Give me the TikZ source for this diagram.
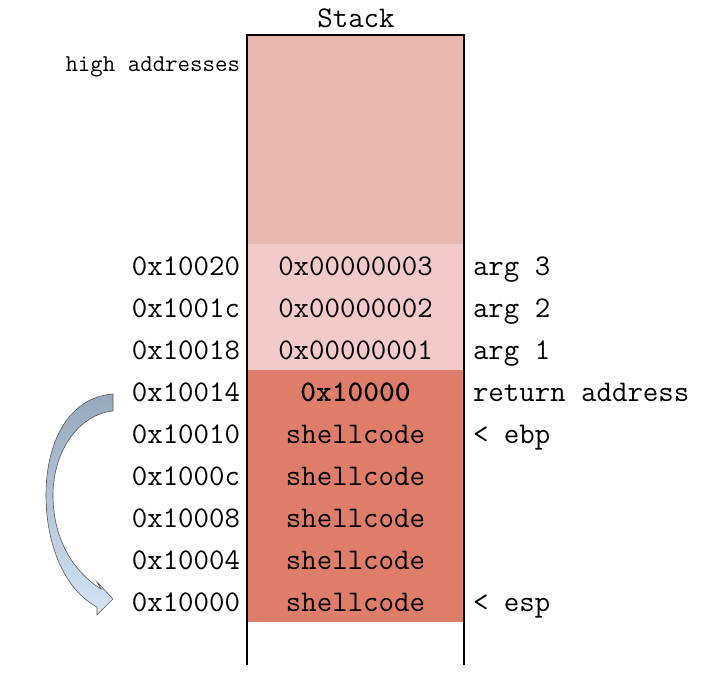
\documentclass[tikz,border=0pt]{standalone}
\usepackage{tikz}
\usetikzlibrary{positioning}
\definecolor{oldstack}{HTML}{E8B8B0}
\definecolor{argcell}{HTML}{F3CACA}
\definecolor{framecell}{HTML}{DF7D6B}
\definecolor{jumptop}{HTML}{95A8BC}
\definecolor{jumpbot}{HTML}{D3E4F6}

\begin{document}
\begin{tikzpicture}[x=1pt,y=-1pt,
  every node/.style={font=\ttfamily\fontsize{30}{33}\selectfont,inner sep=0pt,outer sep=0pt},
  cell/.style={minimum width=217pt,minimum height=42pt},
  word/.style={text height=15pt,text depth=3pt},
  addr/.style={word,anchor=east},
  note/.style={word,anchor=west}]
\useasboundingbox (0,0) rectangle (708,680);
% free part of the stack
\node[cell,fill=oldstack,minimum height=209pt] (old) at (355.5,139.5) {};
\node[word] (title) at (356,21) {Stack};
\node[addr,font=\ttfamily\fontsize{24.2}{27}\selectfont] (high) at (240,65) {high addresses};
% one row per word
\foreach \i/\a/\v/\c in {1/0x10020/0x00000003/argcell,
                         2/0x1001c/0x00000002/argcell,
                         3/0x10018/0x00000001/argcell,
                         4/0x10014/\textbf{0x10000}/framecell,
                         5/0x10010/shellcode/framecell,
                         6/0x1000c/shellcode/framecell,
                         7/0x10008/shellcode/framecell,
                         8/0x10004/shellcode/framecell,
                         9/0x10000/shellcode/framecell}{
  \node[cell,fill=\c] (cell\i) at (355.5,{223+42*\i}) {};
  \node[word] (val\i) at (355.5,{227+42*\i}) {\v};
  \node[addr] (addr\i) at (240,{227+42*\i}) {\a};
}
\node[note] (arg3) at (473,269) {arg 3};
\node[note] (arg2) at (473,311) {arg 2};
\node[note] (arg1) at (473,353) {arg 1};
\node[note] (ret) at (473,395) {return address};
\node[note] (ebp) at (473,437) {< ebp};
\node[note] (esp) at (473,605) {< esp};
% outline, open at the bottom
\coordinate (lowl) at (247,665);
\coordinate (lowr) at (464,665);
\draw[line width=1.5pt] (lowl) -- (old.north west) -- (old.north east) -- (lowr);
% jump back into the shellcode
\path[draw=black!65,line width=0.6pt,top color=jumptop,bottom color=jumpbot]
  (113,394) .. controls (70,397) and (46,440) .. (46,495)
  .. controls (46,550) and (68,592) .. (97,607)
  -- (97,615) -- (113,599) -- (97,582) -- (101,589)
  .. controls (74,572) and (53,540) .. (53,495)
  .. controls (53,450) and (80,414) .. (113,411) -- cycle;
\end{tikzpicture}
\end{document}
